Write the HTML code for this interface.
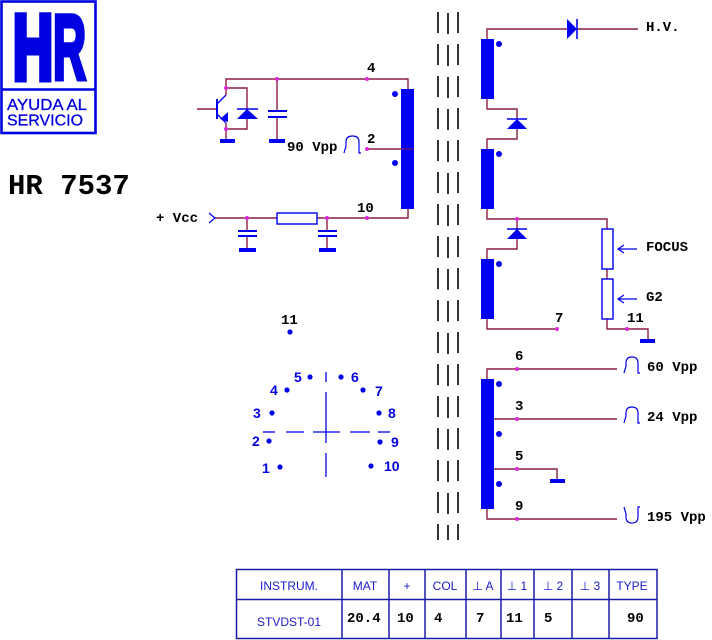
<!DOCTYPE html>
<html><head><meta charset="utf-8"><style>
html,body{margin:0;padding:0;background:#fff;}
svg{display:block;}
.w{stroke:#8c1c44;stroke-width:1.4;fill:none;}
.b{fill:#0000f0;}
.bl{stroke:#0000f0;fill:none;}
.nd{fill:#d828d8;}
.m{font-family:"Liberation Mono",monospace;font-weight:bold;font-size:14px;fill:#000;}
.p{font-family:"Liberation Sans",sans-serif;font-weight:bold;font-size:14px;fill:#0000e0;}
.th{font-family:"Liberation Sans","DejaVu Sans",sans-serif;font-size:12px;fill:#1a1ac8;text-anchor:middle;}
</style></head><body>
<svg width="712" height="640" viewBox="0 0 712 640" xmlns="http://www.w3.org/2000/svg">
<rect width="712" height="640" fill="#fff"/>
<!-- Logo -->
<rect x="1.5" y="1.5" width="94" height="131.5" fill="#fff" stroke="#0000e0" stroke-width="2.6"/>
<line x1="1.5" y1="89.5" x2="95.5" y2="89.5" stroke="#0000e0" stroke-width="2.6"/>
<text x="13" y="79" font-family="Liberation Sans,sans-serif" font-weight="bold" font-size="92" fill="#0000e0" stroke="#0000e0" stroke-width="7" stroke-linejoin="miter" textLength="40" lengthAdjust="spacingAndGlyphs">H</text>
<text x="53" y="79" font-family="Liberation Sans,sans-serif" font-weight="bold" font-size="92" fill="#0000e0" stroke="#0000e0" stroke-width="5" textLength="33" lengthAdjust="spacingAndGlyphs">R</text>
<text x="7" y="110" font-family="Liberation Sans,sans-serif" font-size="16" fill="#0000e0" stroke="#0000e0" stroke-width="0.3" textLength="80" lengthAdjust="spacingAndGlyphs">AYUDA AL</text>
<text x="7" y="125.5" font-family="Liberation Sans,sans-serif" font-size="16" fill="#0000e0" stroke="#0000e0" stroke-width="0.3" textLength="76" lengthAdjust="spacingAndGlyphs">SERVICIO</text>
<text x="8" y="194" font-family="Liberation Mono,monospace" font-weight="bold" font-size="29" fill="#000">HR 7537</text>

<!-- Core -->
<line x1="438" y1="12" x2="438" y2="540" stroke="#000" stroke-width="1.6" stroke-dasharray="21 11"/>
<line x1="448" y1="9" x2="448" y2="540" stroke="#000" stroke-width="1.6" stroke-dasharray="21 11" stroke-dashoffset="-4"/>
<line x1="458" y1="12" x2="458" y2="540" stroke="#000" stroke-width="1.6" stroke-dasharray="21 11"/>

<!-- Left primary circuit -->
<path class="w" d="M226,88 L226,79 L408,79 L408,89"/>
<path class="w" d="M226,88 L247,88 L247,109"/>
<path class="w" d="M247,119 L247,129 L226,129"/>
<path class="w" d="M226,88 L226,95"/>
<path class="w" d="M226,123 L226,140"/>
<path class="w" d="M197,109 L217,109"/>
<path class="w" d="M277,79 L277,111 M277,117 L277,140"/>
<path class="w" d="M367,149 L408,149"/>
<path class="w" d="M215,218 L408,218 L408,209"/>
<path class="w" d="M247,218 L247,231 M247,236 L247,248"/>
<path class="w" d="M327,218 L327,231 M327,236 L327,248"/>
<!-- transistor -->
<line x1="217" y1="99" x2="217" y2="119" stroke="#0000f0" stroke-width="2"/>
<line x1="217" y1="104" x2="226" y2="95" stroke="#0000f0" stroke-width="1.3"/>
<line x1="217" y1="114" x2="226" y2="123" stroke="#0000f0" stroke-width="1.3"/>
<polygon class="b" points="220,119 228,112 228,122"/>
<!-- diode -->
<polygon class="b" points="247,109 237,119 258,119"/>
<line x1="237" y1="109" x2="258" y2="109" stroke="#0000f0" stroke-width="1.6"/>
<!-- caps -->
<line x1="268" y1="111" x2="287" y2="111" stroke="#0000f0" stroke-width="2"/>
<line x1="268" y1="117" x2="287" y2="117" stroke="#0000f0" stroke-width="2"/>
<line x1="238" y1="231" x2="257" y2="231" stroke="#0000f0" stroke-width="2"/>
<line x1="238" y1="236" x2="257" y2="236" stroke="#0000f0" stroke-width="2"/>
<line x1="318" y1="231" x2="337" y2="231" stroke="#0000f0" stroke-width="2"/>
<line x1="318" y1="236" x2="337" y2="236" stroke="#0000f0" stroke-width="2"/>
<!-- grounds -->
<rect class="b" x="220" y="139" width="15" height="4"/>
<rect class="b" x="269" y="139" width="16" height="4"/>
<rect class="b" x="239" y="248" width="17" height="4"/>
<rect class="b" x="319" y="248" width="17" height="4"/>
<!-- resistor -->
<rect x="277" y="213" width="40" height="11" fill="#fff" stroke="#0000f0" stroke-width="1.4"/>
<!-- Vcc chevron -->
<polyline points="209,213 215,218 209,223" class="bl" stroke-width="1.2"/>
<!-- primary coil -->
<rect class="b" x="401" y="89" width="13" height="120"/>
<circle class="b" cx="395" cy="94" r="3"/>
<circle class="b" cx="395" cy="163" r="3"/>
<line x1="401" y1="149" x2="414" y2="149" stroke="#8c1c44" stroke-width="1"/>
<!-- pulse 90 -->
<path class="bl" stroke-width="1.2" d="M344,153 L346,146 L346,142 Q346,136 352.5,136 Q359,136 359,142 L359,153 L361,153"/>
<!-- nodes -->
<circle class="nd" cx="226" cy="88" r="2"/>
<circle class="nd" cx="226" cy="129" r="2"/>
<circle class="nd" cx="277" cy="79" r="2"/>
<circle class="nd" cx="367" cy="79" r="2"/>
<circle class="nd" cx="367" cy="149" r="2"/>
<circle class="nd" cx="367" cy="218" r="2"/>
<circle class="nd" cx="247" cy="218" r="2"/>
<circle class="nd" cx="327" cy="218" r="2"/>
<text class="m" x="367" y="72">4</text>
<text class="m" x="367" y="143">2</text>
<text class="m" x="357" y="212">10</text>
<text class="m" x="287" y="151">90 Vpp</text>
<text class="m" x="156" y="222">+ Vcc</text>

<!-- Right secondary -->
<path class="w" d="M487,39 L487,29 L567,29 M577,29 L638,29"/>
<path class="w" d="M487,99 L487,109 L517,109 L517,119 M517,129 L517,139 L487,139 L487,149"/>
<path class="w" d="M487,209 L487,219 L607,219 L607,229 M517,219 L517,229 M517,239 L517,249 L487,249 L487,259"/>
<path class="w" d="M607,269 L607,279 M607,319 L607,329 L648,329 L648,340"/>
<path class="w" d="M487,319 L487,329 L557,329"/>
<path class="w" d="M487,379 L487,369 L617,369"/>
<path class="w" d="M487,419 L617,419"/>
<path class="w" d="M487,469 L557,469 L557,479"/>
<path class="w" d="M487,509 L487,519 L617,519"/>
<rect class="b" x="481" y="39" width="13" height="60"/>
<rect class="b" x="481" y="149" width="13" height="60"/>
<rect class="b" x="481" y="259" width="13" height="60"/>
<rect class="b" x="481" y="379" width="13" height="130"/>
<circle class="b" cx="499" cy="44" r="3"/>
<circle class="b" cx="499" cy="154" r="3"/>
<circle class="b" cx="499" cy="264" r="3"/>
<circle class="b" cx="499" cy="384" r="3"/>
<circle class="b" cx="499" cy="434" r="3"/>
<circle class="b" cx="499" cy="484" r="3"/>
<!-- diodes -->
<polygon class="b" points="567,19 567,39 577,29"/>
<line x1="577" y1="19" x2="577" y2="39" stroke="#0000f0" stroke-width="1.6"/>
<polygon class="b" points="517,119 507,129 527,129"/>
<line x1="507" y1="119" x2="527" y2="119" stroke="#0000f0" stroke-width="1.6"/>
<polygon class="b" points="517,229 507,239 527,239"/>
<line x1="507" y1="229" x2="527" y2="229" stroke="#0000f0" stroke-width="1.6"/>
<!-- resistors -->
<rect x="602" y="229" width="11" height="40" fill="#fff" stroke="#0000f0" stroke-width="1.4"/>
<rect x="602" y="279" width="11" height="40" fill="#fff" stroke="#0000f0" stroke-width="1.4"/>
<!-- grounds -->
<rect class="b" x="640" y="339" width="15" height="4"/>
<rect class="b" x="550" y="479" width="15" height="4"/>
<!-- arrows -->
<path class="bl" stroke-width="1.2" d="M618,249 L637,249 M624,245 L618,249 L624,253"/>
<path class="bl" stroke-width="1.2" d="M618,299 L637,299 M624,295 L618,299 L624,303"/>
<!-- pulses -->
<path class="bl" stroke-width="1.2" d="M624,373 L626,366 L626,363 Q626,357 632,357 Q638,357 638,363 L638,373 L640,373"/>
<path class="bl" stroke-width="1.2" d="M624,423 L626,416 L626,413 Q626,407 632,407 Q638,407 638,413 L638,423 L640,423"/>
<path class="bl" stroke-width="1.2" d="M624,507 L626,514 L626,517 Q626,523 632,523 Q638,523 638,517 L638,507 L640,507"/>
<!-- nodes -->
<circle class="nd" cx="517" cy="219" r="2"/>
<circle class="nd" cx="557" cy="329" r="2"/>
<circle class="nd" cx="627" cy="329" r="2"/>
<circle class="nd" cx="517" cy="369" r="2"/>
<circle class="nd" cx="517" cy="419" r="2"/>
<circle class="nd" cx="517" cy="469" r="2"/>
<circle class="nd" cx="517" cy="519" r="2"/>
<text class="m" x="646" y="31">H.V.</text>
<text class="m" x="646" y="251">FOCUS</text>
<text class="m" x="646" y="301">G2</text>
<text class="m" x="555" y="322">7</text>
<text class="m" x="627" y="322">11</text>
<text class="m" x="515" y="360">6</text>
<text class="m" x="515" y="410">3</text>
<text class="m" x="515" y="460">5</text>
<text class="m" x="515" y="510">9</text>
<text class="m" x="647" y="371">60 Vpp</text>
<text class="m" x="647" y="421">24 Vpp</text>
<text class="m" x="647" y="521">195 Vpp</text>

<!-- Pin diagram -->
<text class="m" x="281" y="324">11</text>
<circle class="b" cx="290" cy="332" r="2.6"/>
<g stroke="#0000e0" stroke-width="1.3">
<line x1="326" y1="372" x2="326" y2="382"/>
<line x1="326" y1="392" x2="326" y2="443"/>
<line x1="326" y1="453" x2="326" y2="477"/>
<line x1="263" y1="432" x2="275" y2="432"/>
<line x1="286" y1="432" x2="304" y2="432"/>
<line x1="313" y1="432" x2="340" y2="432"/>
<line x1="350" y1="432" x2="370" y2="432"/>
<line x1="378" y1="432" x2="390" y2="432"/>
</g>
<g class="b">
<circle cx="310" cy="377" r="2.6"/>
<circle cx="341" cy="377" r="2.6"/>
<circle cx="287" cy="390" r="2.6"/>
<circle cx="363" cy="390" r="2.6"/>
<circle cx="272" cy="413" r="2.6"/>
<circle cx="379" cy="413" r="2.6"/>
<circle cx="269" cy="441" r="2.6"/>
<circle cx="380" cy="442" r="2.6"/>
<circle cx="280" cy="467" r="2.6"/>
<circle cx="371" cy="466" r="2.6"/>
</g>
<text class="p" x="294" y="382">5</text>
<text class="p" x="351" y="382">6</text>
<text class="p" x="270" y="395">4</text>
<text class="p" x="375" y="396">7</text>
<text class="p" x="253" y="418">3</text>
<text class="p" x="388" y="418">8</text>
<text class="p" x="252" y="446">2</text>
<text class="p" x="391" y="447">9</text>
<text class="p" x="262" y="473">1</text>
<text class="p" x="384" y="471">10</text>

<!-- Table -->
<g stroke="#1a1aa8" stroke-width="1.5" fill="none">
<rect x="236.5" y="569.5" width="420.5" height="69"/>
<line x1="236.5" y1="599.5" x2="657" y2="599.5"/>
<line x1="342" y1="569.5" x2="342" y2="638.5"/>
<line x1="389" y1="569.5" x2="389" y2="638.5"/>
<line x1="425" y1="569.5" x2="425" y2="638.5"/>
<line x1="466" y1="569.5" x2="466" y2="638.5"/>
<line x1="501" y1="569.5" x2="501" y2="638.5"/>
<line x1="534" y1="569.5" x2="534" y2="638.5"/>
<line x1="572" y1="569.5" x2="572" y2="638.5"/>
<line x1="609" y1="569.5" x2="609" y2="638.5"/>
</g>
<text class="th" x="289" y="590">INSTRUM.</text>
<text class="th" x="365" y="590">MAT</text>
<text class="th" x="407" y="590">+</text>
<text class="th" x="445" y="590">COL</text>
<text class="th" x="483" y="590">⊥ A</text>
<text class="th" x="517" y="590">⊥ 1</text>
<text class="th" x="553" y="590">⊥ 2</text>
<text class="th" x="590" y="590">⊥ 3</text>
<text class="th" x="632" y="590">TYPE</text>
<text class="th" x="289" y="626">STVDST-01</text>
<text class="m" x="347" y="622">20.4</text>
<text class="m" x="397" y="622">10</text>
<text class="m" x="434" y="622">4</text>
<text class="m" x="476" y="622">7</text>
<text class="m" x="506" y="622">11</text>
<text class="m" x="544" y="622">5</text>
<text class="m" x="627" y="622">90</text>
</svg>
</body></html>
